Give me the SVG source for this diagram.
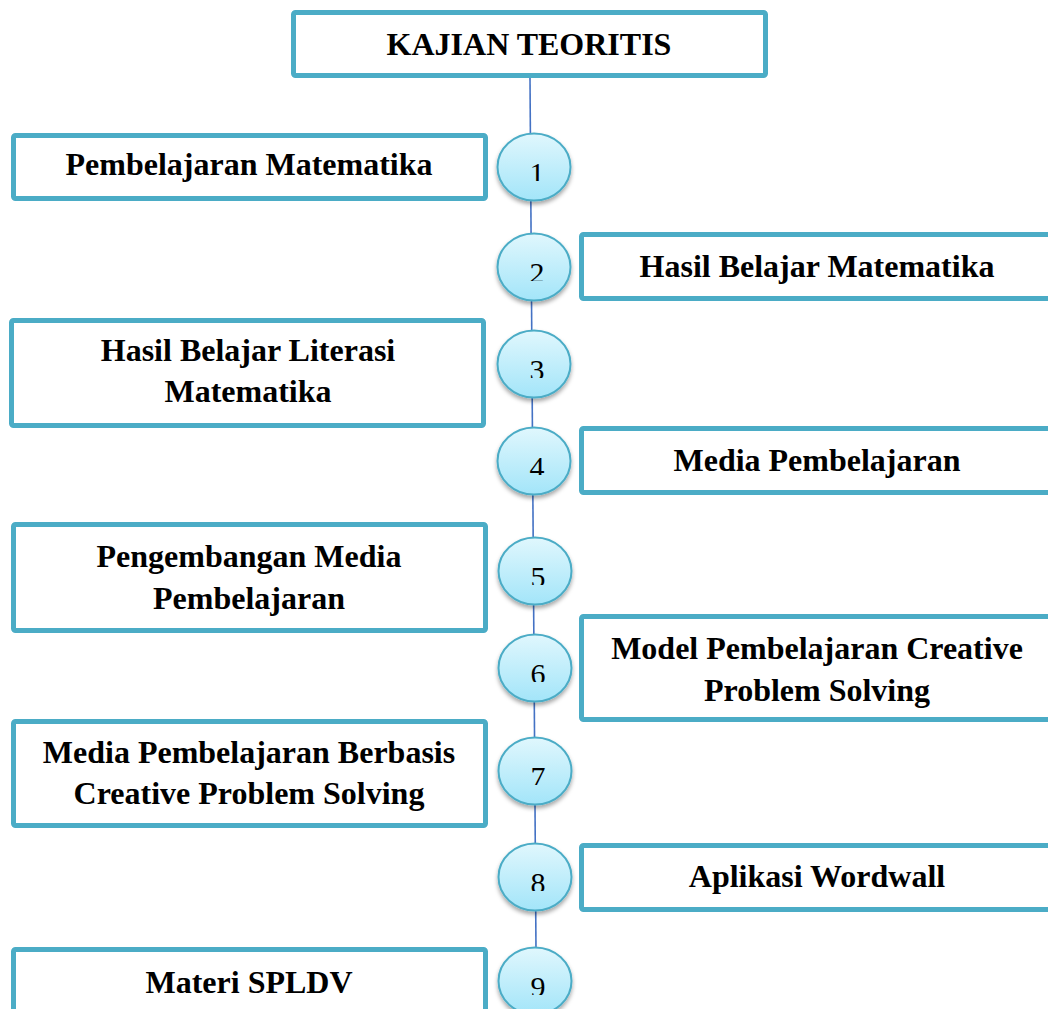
<svg xmlns="http://www.w3.org/2000/svg" width="1048" height="1009" viewBox="0 0 1048 1009">
<style>
.box{fill:#fff;stroke:#4BACC6;stroke-width:5}
.lbl{font-family:"Liberation Serif","Times New Roman",serif;font-weight:bold;font-size:32px;fill:#000;text-anchor:middle}
.num{font-family:"Liberation Serif","Times New Roman",serif;font-size:30px;fill:#000;text-anchor:middle}
.circ{fill:url(#cg);stroke:#4BACC6;stroke-width:2;filter:url(#sh)}
.conn{stroke:#4472C4;stroke-width:1.6;fill:none}
</style>
<defs>
<linearGradient id="cg" x1="0" y1="0" x2="0" y2="1">
<stop offset="0" stop-color="#E0F7FD"/>
<stop offset="1" stop-color="#A3E5F9"/>
</linearGradient>
<filter id="sh" x="-30%" y="-30%" width="160%" height="170%">
<feDropShadow dx="0" dy="3" stdDeviation="2" flood-color="#000" flood-opacity="0.35"/>
</filter>
<clipPath id="dc" clipPathUnits="userSpaceOnUse"><rect x="-40" y="-40" width="80" height="54"/></clipPath>
</defs>
<g id="connectors">
<line class="conn" x1="530" y1="78" x2="536" y2="950"/>
</g>
<g id="title">
<rect class="box" x="293.5" y="12.5" width="472" height="63" rx="2"/>
<text class="lbl" x="529" y="55">KAJIAN TEORITIS</text>
</g>
<g id="box1">
<rect class="box" x="13.5" y="135.5" width="472" height="63" rx="2"/>
<text class="lbl" x="249" y="175">Pembelajaran Matematika</text>
</g>
<g id="box2">
<rect class="box" x="581.5" y="234.5" width="480" height="64" rx="2"/>
<text class="lbl" x="817" y="277">Hasil Belajar Matematika</text>
</g>
<g id="box3">
<rect class="box" x="11.5" y="320.5" width="472" height="105" rx="2"/>
<text class="lbl" x="248" y="361">Hasil Belajar Literasi</text>
<text class="lbl" x="248" y="402">Matematika</text>
</g>
<g id="box4">
<rect class="box" x="581.5" y="428.5" width="480" height="64" rx="2"/>
<text class="lbl" x="817" y="471">Media Pembelajaran</text>
</g>
<g id="box5">
<rect class="box" x="13.5" y="524.5" width="472" height="106" rx="2"/>
<text class="lbl" x="249" y="567">Pengembangan Media</text>
<text class="lbl" x="249" y="609">Pembelajaran</text>
</g>
<g id="box6">
<rect class="box" x="581.5" y="616.5" width="480" height="103" rx="2"/>
<text class="lbl" x="817" y="659">Model Pembelajaran Creative</text>
<text class="lbl" x="817" y="701">Problem Solving</text>
</g>
<g id="box7">
<rect class="box" x="13.5" y="721.5" width="472" height="104" rx="2"/>
<text class="lbl" x="249" y="763">Media Pembelajaran Berbasis</text>
<text class="lbl" x="249" y="804">Creative Problem Solving</text>
</g>
<g id="box8">
<rect class="box" x="581.5" y="845.5" width="480" height="64" rx="2"/>
<text class="lbl" x="817" y="887">Aplikasi Wordwall</text>
</g>
<g id="box9">
<rect class="box" x="13.5" y="949.5" width="472" height="80" rx="2"/>
<text class="lbl" x="249" y="993">Materi SPLDV</text>
</g>
<g id="c1" transform="translate(534,167)"><ellipse class="circ" rx="36.5" ry="33.5"/><g clip-path="url(#dc)"><text class="num" x="3" y="16">1</text></g></g>
<g id="c2" transform="translate(534,267)"><ellipse class="circ" rx="36.5" ry="33.5"/><g clip-path="url(#dc)"><text class="num" x="3" y="16">2</text></g></g>
<g id="c3" transform="translate(534,364)"><ellipse class="circ" rx="36.5" ry="33.5"/><g clip-path="url(#dc)"><text class="num" x="3" y="16">3</text></g></g>
<g id="c4" transform="translate(534,461)"><ellipse class="circ" rx="36.5" ry="33.5"/><g clip-path="url(#dc)"><text class="num" x="3" y="16">4</text></g></g>
<g id="c5" transform="translate(535,571)"><ellipse class="circ" rx="36.5" ry="33.5"/><g clip-path="url(#dc)"><text class="num" x="3" y="16">5</text></g></g>
<g id="c6" transform="translate(535,668)"><ellipse class="circ" rx="36.5" ry="33.5"/><g clip-path="url(#dc)"><text class="num" x="3" y="16">6</text></g></g>
<g id="c7" transform="translate(535,771)"><ellipse class="circ" rx="36.5" ry="33.5"/><g clip-path="url(#dc)"><text class="num" x="3" y="16">7</text></g></g>
<g id="c8" transform="translate(535,877)"><ellipse class="circ" rx="36.5" ry="33.5"/><g clip-path="url(#dc)"><text class="num" x="3" y="16">8</text></g></g>
<g id="c9" transform="translate(535,981)"><ellipse class="circ" rx="36.5" ry="33.5"/><g clip-path="url(#dc)"><text class="num" x="3" y="16">9</text></g></g>
</svg>
